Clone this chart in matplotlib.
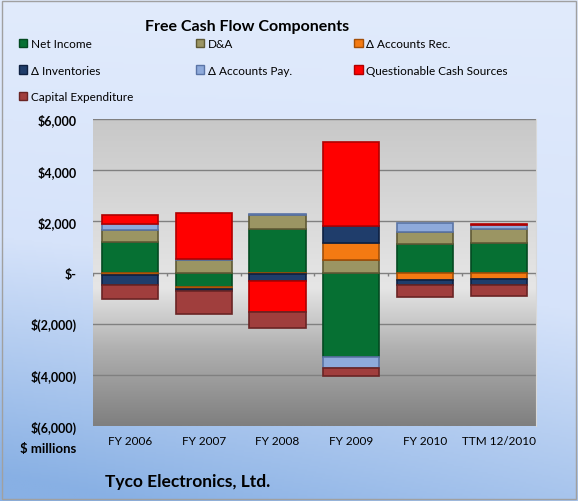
import numpy as np
import matplotlib
matplotlib.use("Agg")
import matplotlib.pyplot as plt
from matplotlib.colors import LinearSegmentedColormap
from matplotlib.patches import Patch

categories = ["FY 2006", "FY 2007", "FY 2008", "FY 2009", "FY 2010", "TTM 12/2010"]
series_names = ["Net Income", "D&A", "Δ Accounts Rec.", "Δ Inventories",
                "Δ Accounts Pay.", "Questionable Cash Sources", "Capital Expenditure"]
net_income = [1210, -565, 1700, -3290, 1100, 1170]
d_and_a = [450, 490, 565, 490, 500, 525]
accounts_rec = [-100, -80, -65, 660, -300, -260]
inventories = [-370, -60, -280, 660, -200, -240]
accounts_pay = [230, 50, 20, -430, 330, 145]
questionable = [370, 1800, -1210, 3300, 0, 50]
capex = [-550, -910, -620, -330, -450, -430]
yticks = [6000, 4000, 2000, 0, -2000, -4000, -6000]
ytick_labels = ["$6,000", "$4,000", "$2,000", "$-", "$(2,000)", "$(4,000)", "$(6,000)"]

series = [net_income, d_and_a, accounts_rec, inventories, accounts_pay, questionable, capex]
colors = ["#067033", "#9b9563", "#f47a12", "#1f3d6b", "#8eaadb", "#ff0000", "#a03e3d"]
edges = ["#034a21", "#5f5a35", "#a34f08", "#0e2040", "#5a74a6", "#b00000", "#6a2424"]

plt.rcParams['font.family'] = ['Lato', 'DejaVu Sans']

fig = plt.figure(figsize=(5.78, 5.02), dpi=100)

# figure background gradient
bg = fig.add_axes([0, 0, 1, 1], zorder=-10)
bg.set_axis_off()
yy = np.linspace(0, 1, 256)[:, None]
xx = np.linspace(0, 1, 256)[None, :]
grad = np.clip(yy * 0.8 + (1 - xx) * 0.25 * yy, 0, 1)
bcmap = LinearSegmentedColormap.from_list("b", ["#e1ebfc", "#d6e3fa", "#88b0e4"])
bg.imshow(grad, cmap=bcmap, aspect="auto", extent=[0, 1, 0, 1], origin="upper")
bg.set_xlim(0, 1); bg.set_ylim(0, 1)
bg.add_patch(plt.Rectangle((0.003, 0.003), 0.994, 0.994, fill=False, edgecolor="#a0a0a0", lw=1))

ax = fig.add_axes([0.161, 0.149, 0.766, 0.612])
ax.set_xlim(-0.5, len(categories) - 0.5)
ax.set_ylim(-6000, 6000)

# plot-area gradient
pcmap = LinearSegmentedColormap.from_list("g", [(0, "#c8c8c8"), (0.55, "#e6e6e6"), (0.75, "#b0b0b0"), (1, "#7f7f7f")])
ax.imshow(np.linspace(0, 1, 256)[:, None], cmap=pcmap, aspect="auto",
          extent=[-0.5, len(categories) - 0.5, -6000, 6000], origin="upper", zorder=0)

for y in yticks:
    ax.axhline(y, color="#808080", lw=1, zorder=1)

x = np.arange(len(categories))
pos_base = np.zeros(len(categories))
neg_base = np.zeros(len(categories))
for vals, c, e in zip(series, colors, edges):
    v = np.array(vals, dtype=float)
    bottoms = np.where(v >= 0, pos_base, neg_base)
    nz = v != 0
    ax.bar(x[nz], v[nz], bottom=bottoms[nz], width=0.76, color=c, edgecolor=e, linewidth=1.2, zorder=3)
    pos_base += np.where(v >= 0, v, 0)
    neg_base += np.where(v < 0, v, 0)

ax.vlines(np.arange(len(categories) + 1) - 0.5, -120, 0, color="#808080", lw=1, zorder=2)

ax.set_yticks(yticks)
ax.set_yticklabels(ytick_labels, fontsize=9, fontweight="bold")
ax.set_xticks(x)
ax.set_xticklabels(categories, fontsize=8.5)
ax.tick_params(axis="both", length=0, pad=6)
ax.tick_params(axis="y", pad=12)
for s in ["top", "bottom", "left"]:
    ax.spines[s].set_visible(False)
ax.spines["right"].set_color("#d8d8d8")

fig.text(0.427, 0.947, "Free Cash Flow Components", ha="center", va="center", fontsize=11.5, fontweight="bold")
fig.text(0.035, 0.106, "$ millions", ha="left", va="center", fontsize=9.5, fontweight="bold")
fig.text(0.181, 0.040, "Tyco Electronics, Ltd.", ha="left", va="center", fontsize=12.5, fontweight="bold")

handles = [Patch(facecolor=c, edgecolor=e, label=n) for n, c, e in zip(series_names, colors, edges)]
order = [0, 3, 6, 1, 4, 2, 5]
leg = fig.legend([handles[i] for i in order], [series_names[i] for i in order],
                 ncol=3, loc="upper left", bbox_to_anchor=(0.033, 0.922), frameon=False,
                 fontsize=8.5, handlelength=0.7, handleheight=0.7, handletextpad=0.3,
                 columnspacing=5.3, labelspacing=1.3, borderaxespad=0, borderpad=0)

fig.savefig("out.png", dpi=100)
